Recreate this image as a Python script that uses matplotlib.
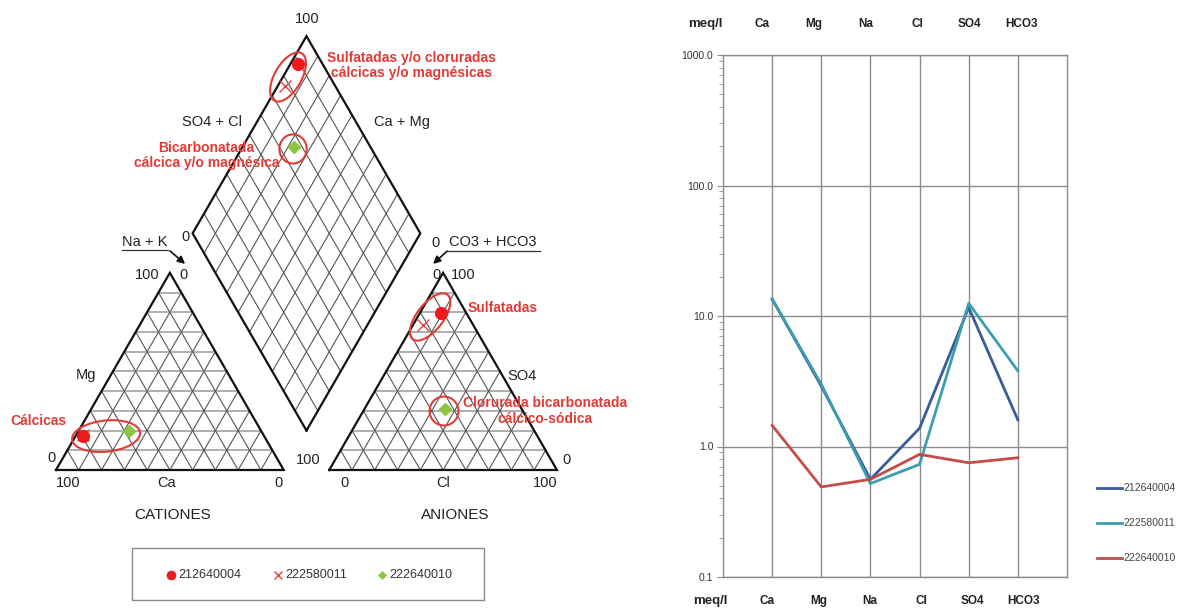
import numpy as np
import matplotlib
matplotlib.use("Agg")
import matplotlib.pyplot as plt
from matplotlib.patches import Ellipse, Rectangle
from matplotlib.lines import Line2D

plt.rcParams["font.family"] = ["Liberation Sans", "DejaVu Sans"]

# ---- data (meq/l) ----
ions = ["Ca", "Mg", "Na", "Cl", "SO4", "HCO3"]
samples = ["212640004", "222580011", "222640010"]
ca = [13.5, 13.5, 1.45]
mg = [2.9, 3.0, 0.49]
na = [0.56, 0.52, 0.56]
cl = [1.38, 0.73, 0.87]
so4 = [11.6, 12.5, 0.75]
hco3 = [1.6, 3.8, 0.82]

line_colors = ["#3a5c9c", "#3d9db0", "#c44c48"]
piper_markers = ["o", "x", "D"]
piper_colors = ["#ee1b1b", "#e04545", "#8cc63f"]
ann_red = "#e23b36"
txt = "#222222"

W, H = 1181, 608
fig = plt.figure(figsize=(W / 100, H / 100), dpi=100)

# ================= Piper diagram =================
S = 227.7          # pixels per 100 %
OX, OY = 56, 470   # origin (Ca corner of cation triangle), pixels from top-left
ax = fig.add_axes([0, 0, 600 / W, 1])
ax.set_xlim(-OX / S, (600 - OX) / S)
ax.set_ylim((OY - H) / S, OY / S)
ax.axis("off")

h = np.sqrt(3) / 2
gap = 0.2
ax0 = 1 + gap          # anion triangle left corner
dy = gap * h           # diamond bottom height
bot = np.array([1 + gap / 2, dy])

grid_dark = dict(color="#555555", lw=0.8, zorder=1)
grid_light = dict(color="#a8a8a8", lw=1.3, zorder=1)
edge = dict(color="#111111", lw=1.6, zorder=2, solid_joinstyle="miter")

def triangle(x0):
    for i in range(1, 10):
        f = i / 10
        ax.plot([x0 + f / 2, x0 + 1 - f / 2], [f * h, f * h], **grid_light)
        ax.plot([x0 + f, x0 + f / 2], [0, f * h], **grid_dark)
        ax.plot([x0 + f, x0 + (1 + f) / 2], [0, (1 - f) * h], **grid_dark)
    ax.plot([x0, x0 + 1, x0 + 0.5, x0], [0, 0, h, 0], **edge)

triangle(0)
triangle(ax0)

up_r = np.array([0.5, h])
up_l = np.array([-0.5, h])
for i in range(1, 10):
    f = i / 10
    p = bot + f * up_r
    q = p + up_l
    ax.plot([p[0], q[0]], [p[1], q[1]], **grid_dark)
    p = bot + f * up_l
    q = p + up_r
    ax.plot([p[0], q[0]], [p[1], q[1]], **grid_dark)
dia = np.array([bot, bot + up_r, bot + up_r + up_l, bot + up_l, bot])
ax.plot(dia[:, 0], dia[:, 1], **edge)

# sample positions from the concentrations
def piper_points(i):
    ct = ca[i] + mg[i] + na[i]
    fca, fmg, fna = ca[i] / ct, mg[i] / ct, na[i] / ct
    at = cl[i] + so4[i] + hco3[i]
    fcl, fso, fhc = cl[i] / at, so4[i] / at, hco3[i] / at
    c = np.array([fna + fmg / 2, fmg * h])
    a = np.array([ax0 + fcl + fso / 2, fso * h])
    t_plus_s = (a[0] - c[0]) / 0.5
    t_minus_s = (a[1] - c[1]) / h
    t = (t_plus_s + t_minus_s) / 2
    d = c + t * up_r
    return c, a, d

# annotation ellipses
ell = [((1.019, 1.726), 0.240, 0.118, 60),
       ((1.041, 1.410), 0.120, 0.128, 0),
       ((0.220, 0.149), 0.300, 0.137, 6),
       ((1.643, 0.672), 0.248, 0.115, 52),
       ((1.704, 0.259), 0.127, 0.127, 0)]
for (cx, cy), w, hh, ang in ell:
    ax.add_patch(Ellipse((cx, cy), w, hh, angle=ang, fill=False,
                         edgecolor=ann_red, lw=1.5, zorder=3))

for i in [1, 2, 0]:
    c, a, d = piper_points(i)
    pts = np.array([c, a, d])
    if piper_markers[i] == "x":
        ax.plot(pts[:, 0], pts[:, 1], "x", color=piper_colors[i], ms=8,
                mew=1.0, ls="none", zorder=4)
    elif piper_markers[i] == "o":
        ax.plot(pts[:, 0], pts[:, 1], "o", color=piper_colors[i], ms=8.5,
                mec=piper_colors[i], ls="none", zorder=5)
    else:
        ax.plot(pts[:, 0], pts[:, 1], "D", color=piper_colors[i], ms=6,
                mec=piper_colors[i], ls="none", zorder=5)

# axis labels
fs = 10.5
lab = [("100", 1.102, 1.981), ("SO4 + Cl", 0.685, 1.528), ("Ca + Mg", 1.520, 1.528),
       ("0", 0.567, 1.023), ("0", 1.665, 0.997),
       ("100", 0.400, 0.856), ("0", 0.558, 0.856), ("Mg", 0.132, 0.417),
       ("0", -0.018, 0.053), ("100", 0.053, -0.057), ("Ca", 0.487, -0.057),
       ("0", 0.975, -0.057), ("100", 1.107, 0.044),
       ("0", 1.673, 0.856), ("100", 1.787, 0.856), ("SO4", 2.047, 0.413),
       ("0", 2.244, 0.044), ("0", 1.265, -0.057), ("Cl", 1.700, -0.057),
       ("100", 2.148, -0.057)]
for s, x, y in lab:
    ax.text(x, y, s, ha="center", va="center", fontsize=fs, color=txt, zorder=6)
ax.text(0.514, -0.198, "CATIONES", ha="center", va="center", fontsize=11, color=txt)
ax.text(1.752, -0.198, "ANIONES", ha="center", va="center", fontsize=11, color=txt)

# Na + K and CO3 + HCO3 pointers
ax.text(0.391, 1.003, "Na + K", ha="center", va="center", fontsize=fs, color=txt)
ax.plot([0.288, 0.494], [0.966, 0.966], color="#333333", lw=0.9)
ax.annotate("", xy=(0.567, 0.905), xytext=(0.501, 0.962),
            arrowprops=dict(arrowstyle="-|>", color="#111111", lw=1.2,
                            mutation_scale=11, shrinkA=0, shrinkB=0))
ax.text(1.919, 1.003, "CO3 + HCO3", ha="center", va="center", fontsize=fs, color=txt)
ax.plot([1.715, 2.126], [0.961, 0.961], color="#333333", lw=0.9)
ax.annotate("", xy=(1.656, 0.905), xytext=(1.717, 0.961),
            arrowprops=dict(arrowstyle="-|>", color="#111111", lw=1.2,
                            mutation_scale=11, shrinkA=0, shrinkB=0))

# water type annotations
red_kw = dict(ha="center", va="center", fontsize=10, color=ann_red,
              fontweight="bold", linespacing=1.1, zorder=6)
ax.text(1.560, 1.777, "Sulfatadas y/o cloruradas\ncálcicas y/o magnésicas", **red_kw)
ax.text(0.660, 1.381, "Bicarbonatada\ncálcica y/o magnésica", **red_kw)
ax.text(-0.079, 0.215, "Cálcicas", **red_kw)
ax.text(1.963, 0.711, "Sulfatadas", **red_kw)
ax.text(2.148, 0.259, "Clorurada bicarbonatada\ncálcico-sódica", **red_kw)

# legend box
ax.add_patch(Rectangle((0.334, -0.571), 1.546, 0.228, fill=False,
                       edgecolor="#8a8a8a", lw=1.0))
leg_x = [0.505, 0.975, 1.432]
for i in range(3):
    m = piper_markers[i]
    ms = {"o": 6.5, "x": 6, "D": 4.5}[m]
    ax.plot([leg_x[i]], [-0.461], m, color=piper_colors[i], ms=ms,
            mew=1.0 if m == "x" else 0.5, mec=piper_colors[i])
    ax.text(leg_x[i] + 0.03, -0.461, samples[i], ha="left", va="center",
            fontsize=9, color="#333333")

# ================= Schoeller diagram =================
L, R, T, B = 723, 1067, 55, 577
ax2 = fig.add_axes([L / W, (H - B) / H, (R - L) / W, (B - T) / H])
ax2.set_yscale("log")
ax2.set_xlim(0, len(ions) + 1)
ax2.set_ylim(0.1, 1000)
xpos = np.arange(1, len(ions) + 1)
ax2.set_xticks(xpos)
ax2.set_xticklabels([])
ax2.tick_params(axis="x", length=0)
ax2.grid(True, axis="x", color="#8c8c8c", lw=1.0)
ax2.grid(True, axis="y", which="major", color="#8c8c8c", lw=1.0)
for sp in ax2.spines.values():
    sp.set_color("#8c8c8c")
    sp.set_linewidth(1.0)
ax2.set_yticks([0.1, 1, 10, 100, 1000])
ax2.set_yticklabels(["0.1", "1.0", "10.0", "100.0", "1000.0"])
ax2.tick_params(axis="y", which="major", length=4, color="#8c8c8c",
                labelsize=7.5, labelcolor="#333333", pad=3)
ax2.tick_params(axis="y", which="minor", length=3, color="#8c8c8c")
ax2.yaxis.set_minor_formatter(matplotlib.ticker.NullFormatter())

series = np.array([ca, mg, na, cl, so4, hco3]).T
for i in range(3):
    ax2.plot(xpos, series[i], color=line_colors[i], lw=2.0, zorder=3,
             solid_joinstyle="round")

def fx(px):
    return px / W

def fy(py):
    return 1 - py / H

head_kw = dict(ha="center", va="center", fontweight="bold", color="#222222")
fig.text(fx(705), fy(24), "meq/l", fontsize=9.5, **head_kw)
fig.text(fx(710), fy(601), "meq/l", fontsize=9.5, **head_kw)
for k, name in enumerate(ions):
    fig.text(fx(762 + 51.8 * k), fy(24), name, fontsize=8.5, **head_kw)
    fig.text(fx(767 + 51.4 * k), fy(601), name, fontsize=8.5, **head_kw)

# series legend
for i in range(3):
    yy = fy(488 + 35 * i)
    fig.add_artist(Line2D([fx(1097), fx(1122)], [yy, yy], color=line_colors[i],
                          lw=2.0, transform=fig.transFigure))
    fig.text(fx(1123), yy, samples[i], ha="left", va="center", fontsize=7.5,
             color="#444444")

fig.savefig("out.png", dpi=100)
